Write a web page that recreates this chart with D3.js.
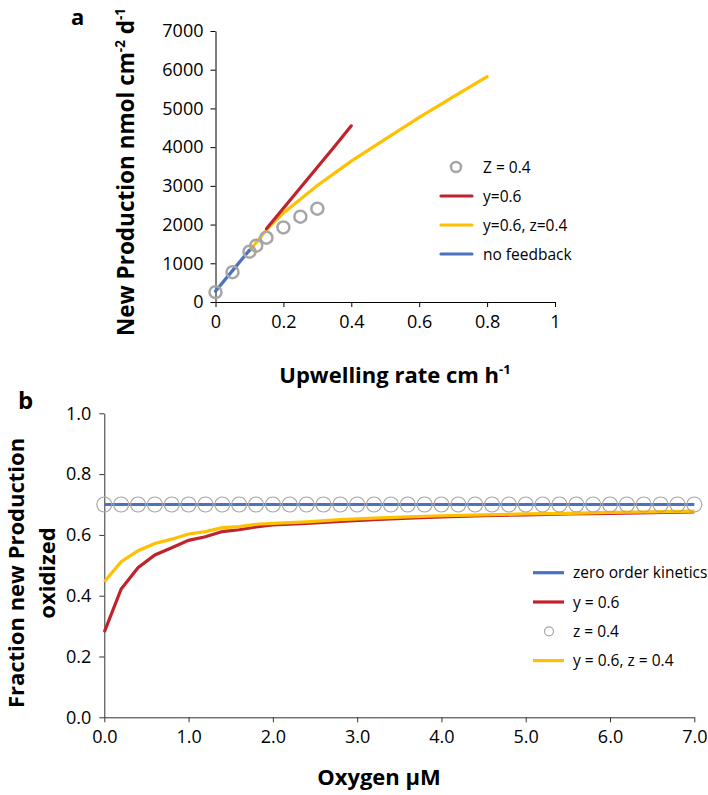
<!DOCTYPE html>
<html>
<head>
<meta charset="utf-8">
<script src="https://cdn.jsdelivr.net/npm/d3@7"></script>
<style>
  body { margin: 0; background: #fff; }
  svg { font-family: "Open Sans", "Noto Sans", sans-serif; }
</style>
</head>
<body>
<script>
// panel a data: upwelling rate (cm/h) vs new production
const zUpwell = [0, 0.05, 0.1, 0.12, 0.15, 0.2, 0.25, 0.3];
const zProd = [255, 770, 1300, 1455, 1660, 1925, 2205, 2410];
const yUpwell = [0.15, 0.2, 0.25, 0.3, 0.35, 0.4];
const yProd = [1890, 2420, 2950, 3480, 4010, 4550];
const yzUpwell = [0.1, 0.15, 0.2, 0.3, 0.4, 0.5, 0.6, 0.7, 0.8];
const yzProd = [1320, 1860, 2300, 3010, 3640, 4205, 4770, 5300, 5820];
const nfUpwell = [0, 0.05, 0.1];
const nfProd = [280, 810, 1340];
const upwellTicks = [0, 0.2, 0.4, 0.6, 0.8, 1];
const prodTicks = [0, 1000, 2000, 3000, 4000, 5000, 6000, 7000];

// panel b data: oxygen (uM) vs fraction oxidized
const zeroOxy = [0, 7];
const zeroFrac = [0.7, 0.7];
const zOxy = [0, 0.2, 0.4, 0.6, 0.8, 1.0, 1.2, 1.4, 1.6, 1.8, 2.0, 2.2, 2.4, 2.6, 2.8, 3.0, 3.2, 3.4,
  3.6, 3.8, 4.0, 4.2, 4.4, 4.6, 4.8, 5.0, 5.2, 5.4, 5.6, 5.8, 6.0, 6.2, 6.4, 6.6, 6.8, 7.0];
const zFrac = [0.7, 0.7, 0.7, 0.7, 0.7, 0.7, 0.7, 0.7, 0.7, 0.7, 0.7, 0.7, 0.7, 0.7, 0.7, 0.7, 0.7, 0.7,
  0.7, 0.7, 0.7, 0.7, 0.7, 0.7, 0.7, 0.7, 0.7, 0.7, 0.7, 0.7, 0.7, 0.7, 0.7, 0.7, 0.7, 0.7];
const curveOxy = [0, 0.2, 0.4, 0.6, 0.8, 1.0, 1.2, 1.4, 1.6, 1.8, 2.0, 2.4, 2.8, 3.2, 3.6, 4.0, 4.5, 5.0, 5.5, 6.0, 6.5, 7.0];
const yFrac = [0.28, 0.422, 0.492, 0.534, 0.558, 0.582, 0.594, 0.611, 0.617, 0.626, 0.633, 0.638, 0.644, 0.650, 0.655,
  0.659, 0.663, 0.666, 0.669, 0.671, 0.673, 0.676];
const yzFrac = [0.446, 0.512, 0.548, 0.572, 0.586, 0.603, 0.611, 0.624, 0.627, 0.635, 0.638, 0.643, 0.650, 0.655, 0.659,
  0.663, 0.666, 0.669, 0.671, 0.674, 0.676, 0.678];
const oxyTicks = [0, 1, 2, 3, 4, 5, 6, 7];
const fracTicks = [0, 0.2, 0.4, 0.6, 0.8, 1.0];

const red = "#c0232b", yellow = "#ffc000", blue = "#4a72c0", grey = "#a6a6a6";
const tickFont = 18;

const svg = d3.select("body").append("svg")
    .attr("width", 708)
    .attr("height", 795);

// ---------- panel a ----------
const xa = d3.scaleLinear().domain([0, 1]).range([215.5, 555]);
const ya = d3.scaleLinear().domain([0, 7000]).range([302, 31]);

const gA = svg.append("g");

gA.append("g")
    .attr("transform", "translate(0,302)")
    .call(d3.axisBottom(xa).tickValues(upwellTicks).tickFormat(d => d).tickSize(5).tickSizeOuter(0).tickPadding(8))
    .call(g => g.selectAll("text").attr("font-size", tickFont).attr("fill", "#000").attr("font-family", "Open Sans"))
    .call(g => g.selectAll("line,path").attr("stroke", "#000"));

gA.append("g")
    .attr("transform", "translate(215.5,0)")
    .call(d3.axisLeft(ya).tickValues(prodTicks).tickFormat(d => d).tickSize(5).tickSizeOuter(0).tickPadding(7))
    .call(g => g.selectAll("text").attr("font-size", tickFont).attr("fill", "#000").attr("font-family", "Open Sans"))
    .call(g => g.selectAll("line,path").attr("stroke", "#000"));

const lineA = d3.line().x(d => xa(d[0])).y(d => ya(d[1]));

gA.append("path")
    .datum(d3.zip(yzUpwell, yzProd))
    .attr("d", lineA)
    .attr("fill", "none").attr("stroke", yellow).attr("stroke-width", 3.2).attr("stroke-linecap", "round");

gA.append("path")
    .datum(d3.zip(yUpwell, yProd))
    .attr("d", lineA)
    .attr("fill", "none").attr("stroke", red).attr("stroke-width", 3.2).attr("stroke-linecap", "round");

gA.append("path")
    .datum(d3.zip(nfUpwell, nfProd))
    .attr("d", lineA)
    .attr("fill", "none").attr("stroke", blue).attr("stroke-width", 3.2).attr("stroke-linecap", "round");

gA.selectAll("circle.z")
    .data(d3.zip(zUpwell, zProd))
    .join("circle")
    .attr("class", "z")
    .attr("cx", d => xa(d[0]))
    .attr("cy", d => ya(d[1]))
    .attr("r", 6)
    .attr("fill", "none")
    .attr("stroke", grey)
    .attr("stroke-width", 2.5);

// legend a
const legA = [
  {label: "Z = 0.4", type: "circle", color: grey},
  {label: "y=0.6", type: "line", color: red},
  {label: "y=0.6, z=0.4", type: "line", color: yellow},
  {label: "no feedback", type: "line", color: blue}
];
legA.forEach((d, i) => {
  const yy = 167 + i * 29;
  if (d.type === "circle") {
    gA.append("circle").attr("cx", 456).attr("cy", yy).attr("r", 5)
      .attr("fill", "none").attr("stroke", d.color).attr("stroke-width", 2.5);
  } else {
    gA.append("line").attr("x1", 441).attr("x2", 472).attr("y1", yy).attr("y2", yy)
      .attr("stroke", d.color).attr("stroke-width", 3.2).attr("stroke-linecap", "round");
  }
  gA.append("text").attr("x", 483).attr("y", yy + 5.5).attr("font-size", 15.5).text(d.label);
});

// titles a
gA.append("text").attr("x", 71).attr("y", 25).attr("font-size", 22).attr("font-weight", "bold").text("a");

const xlabA = gA.append("text").attr("x", 395).attr("y", 383).attr("text-anchor", "middle")
    .attr("font-size", 22).attr("font-weight", "bold");
xlabA.append("tspan").text("Upwelling rate cm h");
xlabA.append("tspan").attr("dy", -9).attr("font-size", 13).text("-1");

const ylabA = gA.append("text").attr("transform", "translate(134,172) rotate(-90)").attr("text-anchor", "middle")
    .attr("font-size", 22.5).attr("font-weight", "bold");
ylabA.append("tspan").text("New Production nmol cm");
ylabA.append("tspan").attr("dy", -9).attr("font-size", 13.5).text("-2");
ylabA.append("tspan").attr("dy", 9).text(" d");
ylabA.append("tspan").attr("dy", -9).attr("font-size", 13.5).text("-1");

// ---------- panel b ----------
const xb = d3.scaleLinear().domain([0, 7]).range([104.3, 694.3]);
const yb = d3.scaleLinear().domain([0, 1]).range([717.3, 413.3]);

const gB = svg.append("g");

gB.append("g")
    .attr("transform", "translate(0,717.3)")
    .call(d3.axisBottom(xb).tickValues(oxyTicks).tickFormat(d3.format(".1f")).tickSize(5).tickSizeOuter(0).tickPadding(8))
    .call(g => g.selectAll("text").attr("font-size", tickFont).attr("fill", "#000").attr("font-family", "Open Sans"))
    .call(g => g.selectAll("line,path").attr("stroke", "#333"));

gB.append("g")
    .attr("transform", "translate(104.3,0)")
    .call(d3.axisLeft(yb).tickValues(fracTicks).tickFormat(d3.format(".1f")).tickSize(5).tickSizeOuter(0).tickPadding(8))
    .call(g => g.selectAll("text").attr("font-size", tickFont).attr("fill", "#000").attr("font-family", "Open Sans"))
    .call(g => g.selectAll("line,path").attr("stroke", "#333"));

const lineB = d3.line().x(d => xb(d[0])).y(d => yb(d[1]));

gB.append("path")
    .datum(d3.zip(zeroOxy, zeroFrac))
    .attr("d", lineB)
    .attr("fill", "none").attr("stroke", blue).attr("stroke-width", 3.2);

gB.append("path")
    .datum(d3.zip(curveOxy, yFrac))
    .attr("d", lineB)
    .attr("fill", "none").attr("stroke", red).attr("stroke-width", 3.2);

gB.append("path")
    .datum(d3.zip(curveOxy, yzFrac))
    .attr("d", lineB)
    .attr("fill", "none").attr("stroke", yellow).attr("stroke-width", 3.2);

gB.selectAll("circle.z")
    .data(d3.zip(zOxy, zFrac))
    .join("circle")
    .attr("class", "z")
    .attr("cx", d => xb(d[0]))
    .attr("cy", d => yb(d[1]))
    .attr("r", 7.5)
    .attr("fill", "none")
    .attr("stroke", grey)
    .attr("stroke-width", 1.2);

// legend b
const legB = [
  {label: "zero order kinetics", type: "line", color: blue},
  {label: "y = 0.6", type: "line", color: red},
  {label: "z = 0.4", type: "circle", color: grey},
  {label: "y = 0.6, z = 0.4", type: "line", color: yellow}
];
legB.forEach((d, i) => {
  const yy = 572.7 + i * 29.3;
  if (d.type === "circle") {
    gB.append("circle").attr("cx", 549).attr("cy", yy).attr("r", 4.5)
      .attr("fill", "none").attr("stroke", d.color).attr("stroke-width", 1.2);
  } else {
    gB.append("line").attr("x1", 533).attr("x2", 564).attr("y1", yy).attr("y2", yy)
      .attr("stroke", d.color).attr("stroke-width", 3.2);
  }
  gB.append("text").attr("x", 573).attr("y", yy + 5.5).attr("font-size", 15.5).text(d.label);
});

gB.append("text").attr("x", 18).attr("y", 409).attr("font-size", 24).attr("font-weight", "bold").text("b");

const xlabB = gB.append("text").attr("x", 379).attr("y", 785).attr("text-anchor", "middle")
    .attr("font-size", 22).attr("font-weight", "bold");
xlabB.append("tspan").text("Oxygen ");
xlabB.append("tspan").text("\u03bcM");

const ylabB = gB.append("text").attr("transform", "translate(0,573) rotate(-90)").attr("text-anchor", "middle")
    .attr("font-size", 22).attr("font-weight", "bold");
ylabB.append("tspan").attr("x", 0).attr("y", 24).text("Fraction new Production");
ylabB.append("tspan").attr("x", 0).attr("y", 55).text("oxidized");
</script>
</body>
</html>
